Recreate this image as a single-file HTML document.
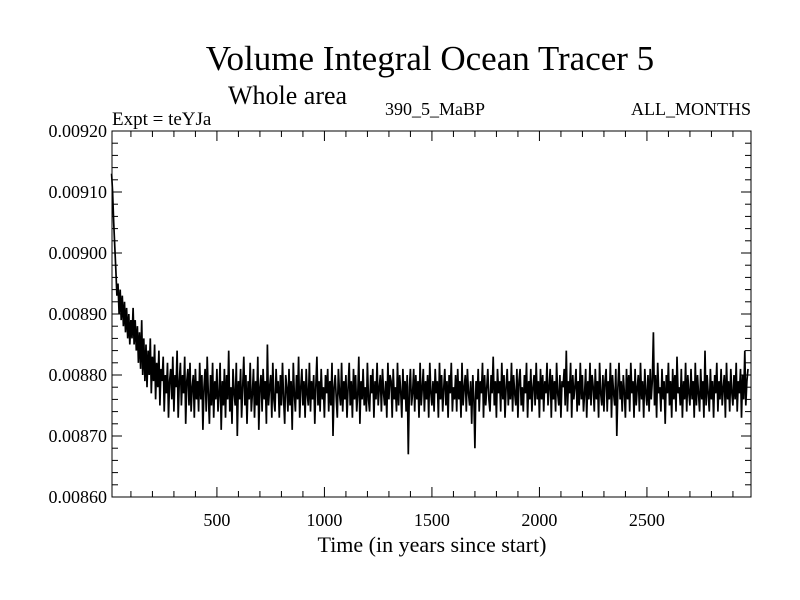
<!DOCTYPE html>
<html><head><meta charset="utf-8"><style>
html,body{margin:0;padding:0;background:#fff;}
svg{display:block;font-family:"Liberation Serif",serif;}
</style></head><body>
<svg id="chart" width="800" height="600" viewBox="0 0 800 600">
<text x="430" y="70" font-size="35" text-anchor="middle">Volume Integral Ocean Tracer 5</text>
<text x="228" y="104" font-size="26">Whole area</text>
<text x="112" y="125" font-size="19">Expt = teYJa</text>
<text x="435" y="115" font-size="18" text-anchor="middle">390_5_MaBP</text>
<text x="751" y="115" font-size="18" text-anchor="end">ALL_MONTHS</text>
<text x="432" y="552" font-size="22" text-anchor="middle">Time (in years since start)</text>
<g id="axes"></g>
<g id="series"></g>
</svg>
<script>
const yTickLabels=["0.00860","0.00870","0.00880","0.00890","0.00900","0.00910","0.00920"];
const yTickValues=[0.0086,0.0087,0.0088,0.0089,0.0090,0.0091,0.0092];
const xTickValues=[500,1000,1500,2000,2500];
const xTickLabels=["500","1000","1500","2000","2500"];
const tracerE5=[
913,910,905,901,897,893,895,890,894,889,893,888,892,887,891,886,890,885,889,886,
891,885,889,884,888,882,887,881,889,880,886,879,885,878,884,880,886,877,883,879,
885,876,882,878,884,875,881,879,883,874,880,877,882,873,879,881,876,883,874,880,
878,884,873,879,882,875,880,877,883,872,879,881,875,882,874,878,880,873,881,876,
879,874,882,876,880,871,878,881,874,883,877,872,880,875,882,873,879,876,881,874,
877,882,871,879,875,881,873,880,876,884,874,878,872,881,877,875,882,870,879,876,
881,873,878,883,875,880,872,879,876,882,874,877,881,873,879,875,883,871,878,880,
874,881,876,879,872,885,875,878,880,873,882,876,874,881,877,879,873,880,875,882,
876,872,880,878,874,881,875,879,871,882,877,874,880,876,883,873,878,881,875,879,
873,881,877,875,882,874,879,876,880,872,878,883,875,879,874,881,876,878,873,880,
877,881,874,879,875,882,870,878,880,876,873,881,877,875,882,874,879,876,880,873,
878,882,875,879,873,881,876,880,874,877,883,872,879,876,881,875,878,874,882,876,
874,880,877,881,873,879,876,882,875,878,880,874,881,877,875,879,873,882,876,880,
879,873,881,876,878,874,882,875,880,877,873,881,876,879,874,880,867,878,881,875,
877,881,874,880,876,879,873,882,875,878,881,874,879,876,880,873,882,877,875,879,
874,881,877,879,873,882,876,880,874,878,881,875,879,873,880,877,882,874,878,876,
880,874,881,876,879,873,882,875,878,880,874,881,877,875,879,872,880,876,868,879,
876,881,874,879,877,882,873,880,875,878,881,876,874,880,877,883,875,879,873,881,
877,879,874,882,876,880,873,878,881,875,879,876,882,874,880,877,875,881,873,879,
881,875,878,874,880,877,882,873,879,876,881,874,878,880,875,882,876,879,873,881,
876,880,874,879,877,882,875,878,881,873,880,876,879,874,882,877,875,880,873,879,
878,881,875,884,874,879,877,882,873,880,876,878,881,874,879,875,882,876,880,874,
877,881,873,879,876,882,875,880,878,874,881,876,879,873,882,877,875,880,874,879,
881,874,879,876,882,873,880,877,875,881,870,878,882,876,879,874,880,877,873,881,
876,880,874,882,877,879,873,881,875,878,880,874,882,876,879,873,881,877,875,880,
874,881,876,879,887,875,880,873,882,877,878,874,881,876,879,872,880,877,882,875,
879,873,881,876,880,874,883,877,878,875,881,873,879,876,882,874,880,877,875,881,
876,879,873,882,875,880,877,874,881,876,879,873,884,875,880,877,874,881,876,879,
873,880,877,882,874,879,876,881,875,878,880,873,882,876,879,874,881,877,875,880,
876,882,874,879,877,881,873,880,876,884,875,879,881];
const years=tracerE5.map((_,i)=>10+5*i);
const L=112,R=751,T=131,B=497,X0=12,X1=2984,Y0=0.0086,Y1=0.0092;
const sx=v=>L+(v-X0)/(X1-X0)*(R-L);
const sy=v=>B-(v-Y0)/(Y1-Y0)*(B-T);
const NS="http://www.w3.org/2000/svg";
const axes=document.getElementById('axes');
function mk(tag,attrs,parent){const e=document.createElementNS(NS,tag);for(const k in attrs)e.setAttribute(k,attrs[k]);parent.appendChild(e);return e;}
const frame=mk('rect',{x:L,y:T,width:R-L,height:B-T,fill:'none',stroke:'#000','stroke-width':1},axes);


for(let v=100;v<X1;v+=100){const x=sx(v);const big=v%500===0;const len=big?10:6;
const t1=mk('line',{x1:x,y1:B,x2:x,y2:B-len,stroke:'#000'},axes);


const t2=mk('line',{x1:x,y1:T,x2:x,y2:T+len,stroke:'#000'},axes);

}
for(let i=0;i<=30;i++){const v=Y0+i*0.00002;const y=sy(v);const big=i%5===0;const len=big?10:6;
const t1=mk('line',{x1:L,y1:y,x2:L+len,y2:y,stroke:'#000'},axes);


const t2=mk('line',{x1:R,y1:y,x2:R-len,y2:y,stroke:'#000'},axes);

}
yTickValues.forEach((v,i)=>{const t=mk('text',{x:L-5,y:sy(v)+6,'font-size':18,'text-anchor':'end'},axes);t.textContent=yTickLabels[i];

});
xTickValues.forEach((v,i)=>{const t=mk('text',{x:sx(v),y:B+29,'font-size':18,'text-anchor':'middle'},axes);t.textContent=xTickLabels[i];

});
const pts=years.map((y,i)=>sx(y).toFixed(1)+','+sy(tracerE5[i]*1e-5).toFixed(1)).join(' ');
const line=mk('polyline',{points:pts,fill:'none',stroke:'#000','stroke-width':1.7,'stroke-linejoin':'miter'},document.getElementById('series'));


</script>
</body></html>
